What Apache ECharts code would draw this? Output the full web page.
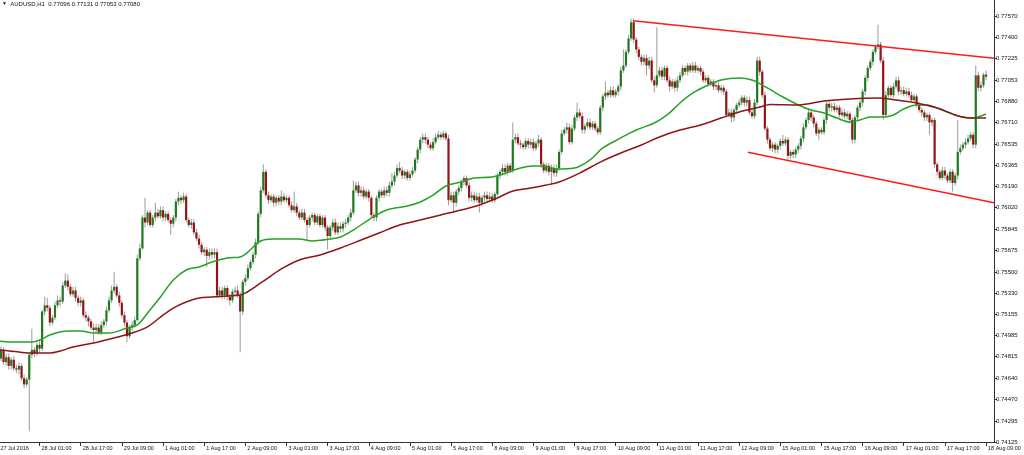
<!DOCTYPE html>
<html><head><meta charset="utf-8">
<script src="https://cdn.jsdelivr.net/npm/echarts@6/dist/echarts.min.js"></script>
<style>html,body{margin:0;padding:0;background:#fff}#c{width:1024px;height:455px}</style>
</head><body><div id="c"></div>
<script>
const symbol = 'AUDUSD,H1';
const xTickBars = [0,16,32,48,64,80,96,112,128,144,160,176,192,208,224,240,256,272,288,304,320,336,352,368,384];
const xTickLabels = ['27 Jul 2016','28 Jul 01:00','28 Jul 17:00','29 Jul 09:00','1 Aug 01:00','1 Aug 17:00','2 Aug 09:00','3 Aug 01:00','3 Aug 17:00','4 Aug 09:00','5 Aug 01:00','5 Aug 17:00','8 Aug 09:00','9 Aug 01:00','9 Aug 17:00','10 Aug 09:00','11 Aug 01:00','11 Aug 17:00','12 Aug 09:00','15 Aug 01:00','15 Aug 17:00','16 Aug 09:00','17 Aug 01:00','17 Aug 17:00','18 Aug 09:00'];
const yTickValues = [0.74125,0.74295,0.74470,0.74640,0.74815,0.74985,0.75155,0.75330,0.75500,0.75675,0.75845,0.76020,0.76190,0.76365,0.76535,0.76710,0.76880,0.77053,0.77225,0.77400,0.77570];

const opens = [
0.7487,0.7480,0.7487,0.7477,0.7481,0.7474,0.7479,0.7472,0.7471,0.7474,
0.7464,0.7459,0.7463,0.7483,0.7487,0.7484,0.7491,0.7488,0.7518,0.7523,
0.7521,0.7509,0.7513,0.7523,0.7527,0.7526,0.7539,0.7543,0.7538,0.7532,
0.7535,0.7529,0.7525,0.7527,0.7515,0.7513,0.7510,0.7505,0.7503,0.7505,
0.7501,0.7507,0.7510,0.7519,0.7527,0.7535,0.7538,0.7531,0.7525,0.7515,
0.7509,0.7498,0.7505,0.7507,0.7511,0.7561,0.7569,0.7594,0.7590,0.7598,
0.7588,0.7594,0.7598,0.7595,0.7600,0.7594,0.7597,0.7592,0.7589,0.7594,
0.7607,0.7610,0.7608,0.7611,0.7592,0.7588,0.7590,0.7582,0.7577,0.7572,
0.7566,0.7568,0.7563,0.7566,0.7564,0.7566,0.7531,0.7535,0.7531,0.7537,
0.7530,0.7527,0.7534,0.7535,0.7531,0.7518,0.7542,0.7545,0.7553,0.7558,
0.7564,0.7574,0.7597,0.7616,0.7631,0.7612,0.7608,0.7611,0.7606,0.7610,
0.7607,0.7611,0.7608,0.7610,0.7604,0.7600,0.7603,0.7598,0.7594,0.7598,
0.7592,0.7588,0.7594,0.7596,0.7590,0.7595,0.7588,0.7594,0.7586,0.7579,
0.7586,0.7590,0.7582,0.7587,0.7585,0.7589,0.7590,0.7594,0.7598,0.7616,
0.7620,0.7614,0.7616,0.7611,0.7615,0.7610,0.7596,0.7594,0.7610,0.7615,
0.7612,0.7616,0.7614,0.7620,0.7623,0.7628,0.7634,0.7632,0.7628,0.7631,
0.7626,0.7629,0.7632,0.7641,0.7649,0.7657,0.7659,0.7657,0.7653,0.7650,
0.7655,0.7659,0.7661,0.7659,0.7662,0.7658,0.7608,0.7612,0.7606,0.7615,
0.7618,0.7623,0.7626,0.7620,0.7610,0.7612,0.7608,0.7611,0.7606,0.7610,
0.7612,0.7609,0.7611,0.7608,0.7613,0.7628,0.7631,0.7634,0.7631,0.7636,
0.7632,0.7657,0.7659,0.7654,0.7653,0.7651,0.7656,0.7653,0.7655,0.7650,
0.7654,0.7657,0.7637,0.7632,0.7636,0.7631,0.7634,0.7630,0.7634,0.7647,
0.7662,0.7665,0.7667,0.7655,0.7666,0.7675,0.7679,0.7676,0.7665,0.7668,
0.7671,0.7667,0.7670,0.7666,0.7663,0.7683,0.7692,0.7695,0.7693,0.7697,
0.7693,0.7696,0.7700,0.7713,0.7717,0.7728,0.7739,0.7752,0.7738,0.7730,
0.7724,0.7720,0.7723,0.7717,0.7721,0.7705,0.7701,0.7709,0.7713,0.7708,
0.7715,0.7705,0.7700,0.7704,0.7699,0.7705,0.7709,0.7715,0.7712,0.7717,
0.7713,0.7717,0.7713,0.7715,0.7712,0.7705,0.7707,0.7702,0.7704,0.7700,
0.7701,0.7697,0.7699,0.7696,0.7677,0.7679,0.7675,0.7681,0.7685,0.7687,
0.7691,0.7687,0.7689,0.7679,0.7676,0.7687,0.7721,0.7712,0.7693,0.7666,
0.7657,0.7650,0.7653,0.7649,0.7652,0.7656,0.7654,0.7657,0.7644,0.7647,
0.7645,0.7649,0.7652,0.7658,0.7667,0.7673,0.7679,0.7675,0.7670,0.7662,
0.7665,0.7663,0.7673,0.7686,0.7683,0.7684,0.7681,0.7683,0.7677,0.7679,
0.7676,0.7678,0.7673,0.7657,0.7675,0.7683,0.7687,0.7696,0.7707,0.7715,
0.7720,0.7728,0.7732,0.7734,0.7721,0.7677,0.7693,0.7699,0.7693,0.7700,
0.7705,0.7696,0.7697,0.7694,0.7696,0.7693,0.7689,0.7692,0.7685,0.7681,
0.7679,0.7675,0.7677,0.7671,0.7673,0.7637,0.7631,0.7626,0.7632,0.7628,
0.7624,0.7631,0.7622,0.7628,0.7647,0.7650,0.7653,0.7655,0.7658,0.7661,
0.7653,0.7709,0.7699,0.7701,0.77096];

const closes = [
0.7480,0.7487,0.7477,0.7481,0.7474,0.7479,0.7472,0.7471,0.7474,0.7464,
0.7459,0.7463,0.7483,0.7487,0.7484,0.7491,0.7488,0.7518,0.7523,0.7521,
0.7509,0.7513,0.7523,0.7527,0.7526,0.7539,0.7543,0.7538,0.7532,0.7535,
0.7529,0.7525,0.7527,0.7515,0.7513,0.7510,0.7505,0.7503,0.7505,0.7501,
0.7507,0.7510,0.7519,0.7527,0.7535,0.7538,0.7531,0.7525,0.7515,0.7509,
0.7498,0.7505,0.7507,0.7511,0.7561,0.7569,0.7594,0.7590,0.7598,0.7588,
0.7594,0.7598,0.7595,0.7600,0.7594,0.7597,0.7592,0.7589,0.7594,0.7607,
0.7610,0.7608,0.7611,0.7592,0.7588,0.7590,0.7582,0.7577,0.7572,0.7566,
0.7568,0.7563,0.7566,0.7564,0.7566,0.7531,0.7535,0.7531,0.7537,0.7530,
0.7527,0.7534,0.7535,0.7531,0.7518,0.7542,0.7545,0.7553,0.7558,0.7564,
0.7574,0.7597,0.7616,0.7631,0.7612,0.7608,0.7611,0.7606,0.7610,0.7607,
0.7611,0.7608,0.7610,0.7604,0.7600,0.7603,0.7598,0.7594,0.7598,0.7592,
0.7588,0.7594,0.7596,0.7590,0.7595,0.7588,0.7594,0.7586,0.7579,0.7586,
0.7590,0.7582,0.7587,0.7585,0.7589,0.7590,0.7594,0.7598,0.7616,0.7620,
0.7614,0.7616,0.7611,0.7615,0.7610,0.7596,0.7594,0.7610,0.7615,0.7612,
0.7616,0.7614,0.7620,0.7623,0.7628,0.7634,0.7632,0.7628,0.7631,0.7626,
0.7629,0.7632,0.7641,0.7649,0.7657,0.7659,0.7657,0.7653,0.7650,0.7655,
0.7659,0.7661,0.7659,0.7662,0.7658,0.7608,0.7612,0.7606,0.7615,0.7618,
0.7623,0.7626,0.7620,0.7610,0.7612,0.7608,0.7611,0.7606,0.7610,0.7612,
0.7609,0.7611,0.7608,0.7613,0.7628,0.7631,0.7634,0.7631,0.7636,0.7632,
0.7657,0.7659,0.7654,0.7653,0.7651,0.7656,0.7653,0.7655,0.7650,0.7654,
0.7657,0.7637,0.7632,0.7636,0.7631,0.7634,0.7630,0.7634,0.7647,0.7662,
0.7665,0.7667,0.7655,0.7666,0.7675,0.7679,0.7676,0.7665,0.7668,0.7671,
0.7667,0.7670,0.7666,0.7663,0.7683,0.7692,0.7695,0.7693,0.7697,0.7693,
0.7696,0.7700,0.7713,0.7717,0.7728,0.7739,0.7752,0.7738,0.7730,0.7724,
0.7720,0.7723,0.7717,0.7721,0.7705,0.7701,0.7709,0.7713,0.7708,0.7715,
0.7705,0.7700,0.7704,0.7699,0.7705,0.7709,0.7715,0.7712,0.7717,0.7713,
0.7717,0.7713,0.7715,0.7712,0.7705,0.7707,0.7702,0.7704,0.7700,0.7701,
0.7697,0.7699,0.7696,0.7677,0.7679,0.7675,0.7681,0.7685,0.7687,0.7691,
0.7687,0.7689,0.7679,0.7676,0.7687,0.7721,0.7712,0.7693,0.7666,0.7657,
0.7650,0.7653,0.7649,0.7652,0.7656,0.7654,0.7657,0.7644,0.7647,0.7645,
0.7649,0.7652,0.7658,0.7667,0.7673,0.7679,0.7675,0.7670,0.7662,0.7665,
0.7663,0.7673,0.7686,0.7683,0.7684,0.7681,0.7683,0.7677,0.7679,0.7676,
0.7678,0.7673,0.7657,0.7675,0.7683,0.7687,0.7696,0.7707,0.7715,0.7720,
0.7728,0.7732,0.7734,0.7721,0.7677,0.7693,0.7699,0.7693,0.7700,0.7705,
0.7696,0.7697,0.7694,0.7696,0.7693,0.7689,0.7692,0.7685,0.7681,0.7679,
0.7675,0.7677,0.7671,0.7673,0.7637,0.7631,0.7626,0.7632,0.7628,0.7624,
0.7631,0.7622,0.7628,0.7647,0.7650,0.7653,0.7655,0.7658,0.7661,0.7653,
0.7709,0.7699,0.7701,0.77096,0.77080];

const highs = [
0.7491,0.7490,0.7489,0.7484,0.7484,0.7481,0.7482,0.7475,0.7477,0.7476,
0.7467,0.7465,0.7485,0.7504,0.7489,0.7493,0.7494,0.7519,0.7530,0.7529,
0.7523,0.7515,0.7526,0.7531,0.7530,0.7542,0.7549,0.7548,0.7540,0.7538,
0.7538,0.7531,0.7530,0.7529,0.7518,0.7515,0.7512,0.7508,0.7508,0.7508,
0.7510,0.7512,0.7522,0.7530,0.7539,0.7550,0.7540,0.7534,0.7527,0.7518,
0.7511,0.7507,0.7510,0.7514,0.7564,0.7573,0.7596,0.7610,0.7600,0.7600,
0.7596,0.7606,0.7601,0.7603,0.7603,0.7599,0.7599,0.7594,0.7596,0.7609,
0.7615,0.7612,0.7614,0.7613,0.7594,0.7593,0.7593,0.7585,0.7580,0.7574,
0.7570,0.7570,0.7569,0.7569,0.7569,0.7569,0.7538,0.7538,0.7539,0.7539,
0.7532,0.7536,0.7538,0.7539,0.7534,0.7544,0.7548,0.7556,0.7560,0.7566,
0.7577,0.7599,0.7619,0.7637,0.7633,0.7615,0.7613,0.7613,0.7612,0.7612,
0.7616,0.7614,0.7612,0.7612,0.7607,0.7615,0.7606,0.7600,0.7601,0.7601,
0.7594,0.7596,0.7598,0.7598,0.7597,0.7597,0.7596,0.7596,0.7588,0.7588,
0.7593,0.7593,0.7590,0.7590,0.7591,0.7593,0.7596,0.7601,0.7624,0.7623,
0.7623,0.7619,0.7619,0.7617,0.7617,0.7612,0.7598,0.7612,0.7617,0.7617,
0.7619,0.7619,0.7623,0.7630,0.7631,0.7637,0.7639,0.7635,0.7633,0.7633,
0.7632,0.7635,0.7643,0.7651,0.7659,0.7662,0.7662,0.7659,0.7655,0.7658,
0.7662,0.7664,0.7663,0.7664,0.7664,0.7661,0.7615,0.7615,0.7617,0.7620,
0.7625,0.7628,0.7628,0.7623,0.7615,0.7615,0.7614,0.7614,0.7612,0.7615,
0.7615,0.7614,0.7614,0.7615,0.7630,0.7633,0.7637,0.7637,0.7638,0.7638,
0.7671,0.7662,0.7662,0.7657,0.7655,0.7658,0.7658,0.7658,0.7658,0.7656,
0.7661,0.7659,0.7639,0.7638,0.7638,0.7637,0.7637,0.7637,0.7649,0.7665,
0.7667,0.7671,0.7670,0.7669,0.7677,0.7687,0.7682,0.7679,0.7670,0.7674,
0.7674,0.7672,0.7672,0.7668,0.7685,0.7694,0.7704,0.7697,0.7700,0.7700,
0.7698,0.7702,0.7716,0.7730,0.7730,0.7742,0.7755,0.7755,0.7740,0.7732,
0.7726,0.7726,0.7726,0.7724,0.7724,0.7708,0.7748,0.7716,0.7716,0.7717,
0.7717,0.7708,0.7706,0.7706,0.7708,0.7712,0.7717,0.7717,0.7719,0.7719,
0.7720,0.7720,0.7717,0.7717,0.7714,0.7709,0.7709,0.7706,0.7706,0.7704,
0.7704,0.7701,0.7701,0.7698,0.7682,0.7682,0.7683,0.7687,0.7690,0.7693,
0.7693,0.7692,0.7692,0.7682,0.7690,0.7724,0.7724,0.7714,0.7696,0.7668,
0.7659,0.7655,0.7655,0.7654,0.7658,0.7661,0.7659,0.7659,0.7649,0.7649,
0.7651,0.7654,0.7660,0.7670,0.7675,0.7681,0.7681,0.7677,0.7672,0.7667,
0.7667,0.7675,0.7688,0.7688,0.7687,0.7687,0.7685,0.7685,0.7682,0.7682,
0.7680,0.7680,0.7675,0.7677,0.7685,0.7689,0.7698,0.7709,0.7717,0.7722,
0.7730,0.7734,0.7750,0.7736,0.7724,0.7696,0.7701,0.7701,0.7703,0.7708,
0.7708,0.7700,0.7700,0.7699,0.7699,0.7696,0.7694,0.7694,0.7687,0.7683,
0.7681,0.7679,0.7679,0.7675,0.7675,0.7639,0.7633,0.7635,0.7635,0.7630,
0.7633,0.7633,0.7630,0.7673,0.7653,0.7655,0.7658,0.7661,0.7663,0.7663,
0.7717,0.7712,0.7704,0.7711,0.77131];

const lows = [
0.7477,0.7478,0.7475,0.7474,0.7471,0.7471,0.7470,0.7468,0.7467,0.7462,
0.7456,0.7457,0.7421,0.7480,0.7481,0.7482,0.7485,0.7486,0.7515,0.7518,
0.7506,0.7507,0.7511,0.7521,0.7522,0.7524,0.7537,0.7535,0.7530,0.7530,
0.7526,0.7522,0.7522,0.7513,0.7510,0.7506,0.7503,0.7493,0.7501,0.7499,
0.7499,0.7505,0.7507,0.7517,0.7525,0.7533,0.7529,0.7522,0.7513,0.7506,
0.7493,0.7496,0.7502,0.7505,0.7510,0.7559,0.7568,0.7586,0.7588,0.7586,
0.7586,0.7591,0.7593,0.7593,0.7591,0.7591,0.7590,0.7580,0.7586,0.7591,
0.7604,0.7605,0.7606,0.7590,0.7586,0.7585,0.7580,0.7575,0.7569,0.7564,
0.7563,0.7554,0.7560,0.7561,0.7561,0.7529,0.7529,0.7528,0.7528,0.7527,
0.7523,0.7525,0.7531,0.7529,0.7485,0.7515,0.7539,0.7543,0.7551,0.7556,
0.7561,0.7572,0.7594,0.7614,0.7610,0.7605,0.7606,0.7603,0.7603,0.7604,
0.7604,0.7606,0.7606,0.7602,0.7598,0.7598,0.7595,0.7592,0.7592,0.7590,
0.7576,0.7586,0.7591,0.7588,0.7588,0.7586,0.7586,0.7583,0.7568,0.7577,
0.7583,0.7580,0.7580,0.7582,0.7582,0.7586,0.7588,0.7591,0.7596,0.7614,
0.7611,0.7611,0.7609,0.7609,0.7607,0.7594,0.7591,0.7591,0.7607,0.7610,
0.7610,0.7611,0.7611,0.7618,0.7620,0.7626,0.7630,0.7625,0.7625,0.7624,
0.7624,0.7627,0.7630,0.7638,0.7646,0.7654,0.7654,0.7650,0.7648,0.7648,
0.7653,0.7657,0.7657,0.7657,0.7656,0.7604,0.7606,0.7598,0.7603,0.7612,
0.7615,0.7620,0.7618,0.7607,0.7607,0.7606,0.7606,0.7598,0.7603,0.7607,
0.7607,0.7607,0.7606,0.7606,0.7611,0.7625,0.7628,0.7628,0.7628,0.7630,
0.7630,0.7654,0.7652,0.7650,0.7649,0.7649,0.7650,0.7650,0.7648,0.7648,
0.7651,0.7634,0.7630,0.7630,0.7628,0.7620,0.7627,0.7627,0.7632,0.7645,
0.7660,0.7662,0.7653,0.7653,0.7664,0.7672,0.7674,0.7662,0.7662,0.7666,
0.7665,0.7665,0.7664,0.7661,0.7661,0.7680,0.7689,0.7691,0.7691,0.7691,
0.7691,0.7693,0.7697,0.7711,0.7715,0.7726,0.7737,0.7735,0.7727,0.7721,
0.7717,0.7717,0.7709,0.7714,0.7703,0.7695,0.7699,0.7707,0.7705,0.7705,
0.7703,0.7696,0.7698,0.7696,0.7696,0.7703,0.7707,0.7709,0.7709,0.7711,
0.7711,0.7711,0.7711,0.7709,0.7703,0.7703,0.7700,0.7700,0.7697,0.7697,
0.7695,0.7695,0.7693,0.7675,0.7675,0.7671,0.7672,0.7679,0.7683,0.7685,
0.7684,0.7684,0.7677,0.7674,0.7674,0.7685,0.7709,0.7691,0.7664,0.7654,
0.7648,0.7647,0.7646,0.7646,0.7649,0.7652,0.7652,0.7641,0.7641,0.7642,
0.7642,0.7646,0.7649,0.7655,0.7665,0.7670,0.7672,0.7667,0.7660,0.7657,
0.7661,0.7661,0.7670,0.7680,0.7680,0.7679,0.7679,0.7675,0.7675,0.7674,
0.7674,0.7670,0.7654,0.7654,0.7672,0.7680,0.7684,0.7693,0.7704,0.7713,
0.7717,0.7726,0.7730,0.7719,0.7673,0.7675,0.7691,0.7691,0.7691,0.7698,
0.7693,0.7693,0.7692,0.7692,0.7691,0.7687,0.7687,0.7683,0.7679,0.7676,
0.7672,0.7672,0.7661,0.7668,0.7634,0.7628,0.7624,0.7624,0.7625,0.7622,
0.7622,0.7615,0.7620,0.7625,0.7645,0.7648,0.7650,0.7653,0.7656,0.7650,
0.7650,0.7696,0.7696,0.7699,0.77053];

// moving averages: [bar, value]
const maFast = [[0,0.74941],[8,0.74933],[13,0.74933],[17,0.74957],[20,0.74990],[27,0.75022],[32,0.75022],[37,0.75006],[43,0.75006],[50,0.75046],[54,0.75071],[58,0.75168],[63,0.75297],[68,0.75435],[73,0.75516],[78,0.75540],[83,0.75580],[89,0.75613],[94,0.75621],[102,0.75750],[107,0.75766],[117,0.75766],[122,0.75750],[129,0.75766],[133,0.75783],[138,0.75839],[145,0.75936],[151,0.76001],[159,0.76033],[164,0.76066],[169,0.76122],[174,0.76195],[180,0.76228],[185,0.76260],[192,0.76268],[203,0.76341],[208,0.76357],[212,0.76357],[217,0.76333],[224,0.76341],[230,0.76406],[235,0.76503],[242,0.76584],[248,0.76648],[255,0.76705],[260,0.76770],[265,0.76867],[270,0.76948],[276,0.77012],[281,0.77053],[288,0.77069],[293,0.77053],[297,0.77012],[301,0.76964],[305,0.76915],[311,0.76851],[316,0.76810],[321,0.76786],[326,0.76745],[331,0.76713],[335,0.76729],[339,0.76753],[344,0.76753],[348,0.76770],[352,0.76818],[357,0.76851],[361,0.76851],[365,0.76826],[370,0.76786],[375,0.76753],[379,0.76745],[382,0.76762],[384,0.76778]];
const maSlow = [[0,0.74869],[8,0.74852],[13,0.74844],[20,0.74844],[24,0.74860],[29,0.74893],[37,0.74925],[45,0.74966],[52,0.75006],[58,0.75055],[63,0.75135],[68,0.75208],[73,0.75257],[78,0.75289],[83,0.75297],[89,0.75305],[94,0.75313],[102,0.75411],[110,0.75524],[117,0.75597],[125,0.75637],[133,0.75694],[141,0.75758],[148,0.75815],[156,0.75880],[164,0.75920],[172,0.75961],[180,0.76001],[187,0.76042],[194,0.76098],[200,0.76155],[207,0.76179],[213,0.76203],[218,0.76228],[226,0.76300],[234,0.76389],[242,0.76462],[250,0.76527],[257,0.76592],[265,0.76648],[273,0.76689],[281,0.76745],[288,0.76794],[296,0.76834],[300,0.76855],[311,0.76851],[321,0.76883],[331,0.76899],[342,0.76907],[349,0.76891],[357,0.76867],[365,0.76826],[373,0.76762],[378,0.76745],[384,0.76745]];

// hand-drawn channel lines: [bar, price]
const upperTrend = [[246.7,0.77533],[387.09,0.77228]];
const lowerTrend = [[291.4,0.76469],[387.09,0.76059]];

const FONT = 'Liberation Sans';
const last = opens.length - 1;
const fmt = v => v.toFixed(5);
const candles = opens.map((o, i) => [i, o, closes[i], lows[i], highs[i]]);

const chart = echarts.init(document.getElementById('c'), null, {renderer: 'canvas'});
chart.setOption({
  animation: false,
  backgroundColor: '#ffffff',
  title: {
    text: '{tri|▼}  ' + symbol + '  ' + [opens[last], highs[last], lows[last], closes[last]].map(fmt).join(' '),
    left: 2, top: 1, padding: 0,
    textStyle: {fontFamily: FONT, fontSize: 6, fontWeight: 'normal', color: '#111',
      rich: {tri: {fontSize: 5, color: '#111', fontFamily: FONT}}}
  },
  grid: {left: -1.6, right: 30, top: 0, bottom: 13, containLabel: false, outerBoundsMode: 'none'},
  xAxis: {
    type: 'value', min: 0, max: 387.09, position: 'bottom',
    axisLine: {show: true, onZero: false, lineStyle: {color: '#333', width: 1}},
    axisTick: {show: true, length: 4, customValues: xTickBars, lineStyle: {color: '#333'}},
    axisLabel: {customValues: xTickBars, formatter: v => xTickLabels[xTickBars.indexOf(v)],
      align: 'left', margin: 3, fontSize: 5.5, fontFamily: FONT, color: '#111', padding: [0,0,0,2]},
    splitLine: {show: false}
  },
  yAxis: {
    type: 'value', position: 'right', min: 0.741242, max: 0.7770,
    axisLine: {show: true, onZero: false, lineStyle: {color: '#333', width: 1}},
    axisTick: {show: true, length: 3, customValues: yTickValues, lineStyle: {color: '#333'}},
    axisLabel: {customValues: yTickValues, formatter: fmt, fontSize: 6, fontFamily: FONT, color: '#111', margin: 2},
    splitLine: {show: false}
  },
  series: [
    {
      type: 'custom', name: 'candles', data: candles, encode: {x: 0, y: [1, 2, 3, 4]}, z: 2,
      renderItem: (params, api) => {
        const i = api.value(0), o = api.value(1), c = api.value(2), l = api.value(3), h = api.value(4);
        const po = api.coord([i, o]), pc = api.coord([i, c]);
        const pl = api.coord([i, l]), ph = api.coord([i, h]);
        const x = po[0];
        const top = Math.min(po[1], pc[1]), bot = Math.max(po[1], pc[1]);
        const up = c >= o;
        return {type: 'group', children: [
          {type: 'line', shape: {x1: x, y1: ph[1], x2: x, y2: pl[1]}, style: {stroke: '#9c9c9c', lineWidth: 1}},
          {type: 'rect', shape: {x: x - 1.1, y: top, width: 2.2, height: Math.max(bot - top, 0.9)},
            style: {fill: up ? '#1f7a1f' : '#971212'}}
        ]};
      }
    },
    {type: 'line', name: 'maFast', data: maFast, showSymbol: false, smooth: 0.35, z: 3,
      lineStyle: {color: '#26a226', width: 1.5}, silent: true},
    {type: 'line', name: 'maSlow', data: maSlow, showSymbol: false, smooth: 0.35, z: 3,
      lineStyle: {color: '#8e1515', width: 1.5}, silent: true,
      markLine: {silent: true, symbol: ['none', 'none'], animation: false,
        lineStyle: {opacity: 0},
        label: {show: true, position: 'end', formatter: () => fmt(closes[last]), backgroundColor: '#000',
          color: '#fff', fontSize: 6, fontFamily: FONT, padding: [2, 3, 1, 3], distance: 1},
        data: [{yAxis: closes[last]}]}},
    {type: 'line', name: 'upper', data: upperTrend, showSymbol: false, z: 4,
      lineStyle: {color: '#ff1a1a', width: 1.5}, silent: true},
    {type: 'line', name: 'lower', data: lowerTrend, showSymbol: false, z: 4,
      lineStyle: {color: '#ff1a1a', width: 1.5}, silent: true}
  ]
});
</script>
</body></html>
